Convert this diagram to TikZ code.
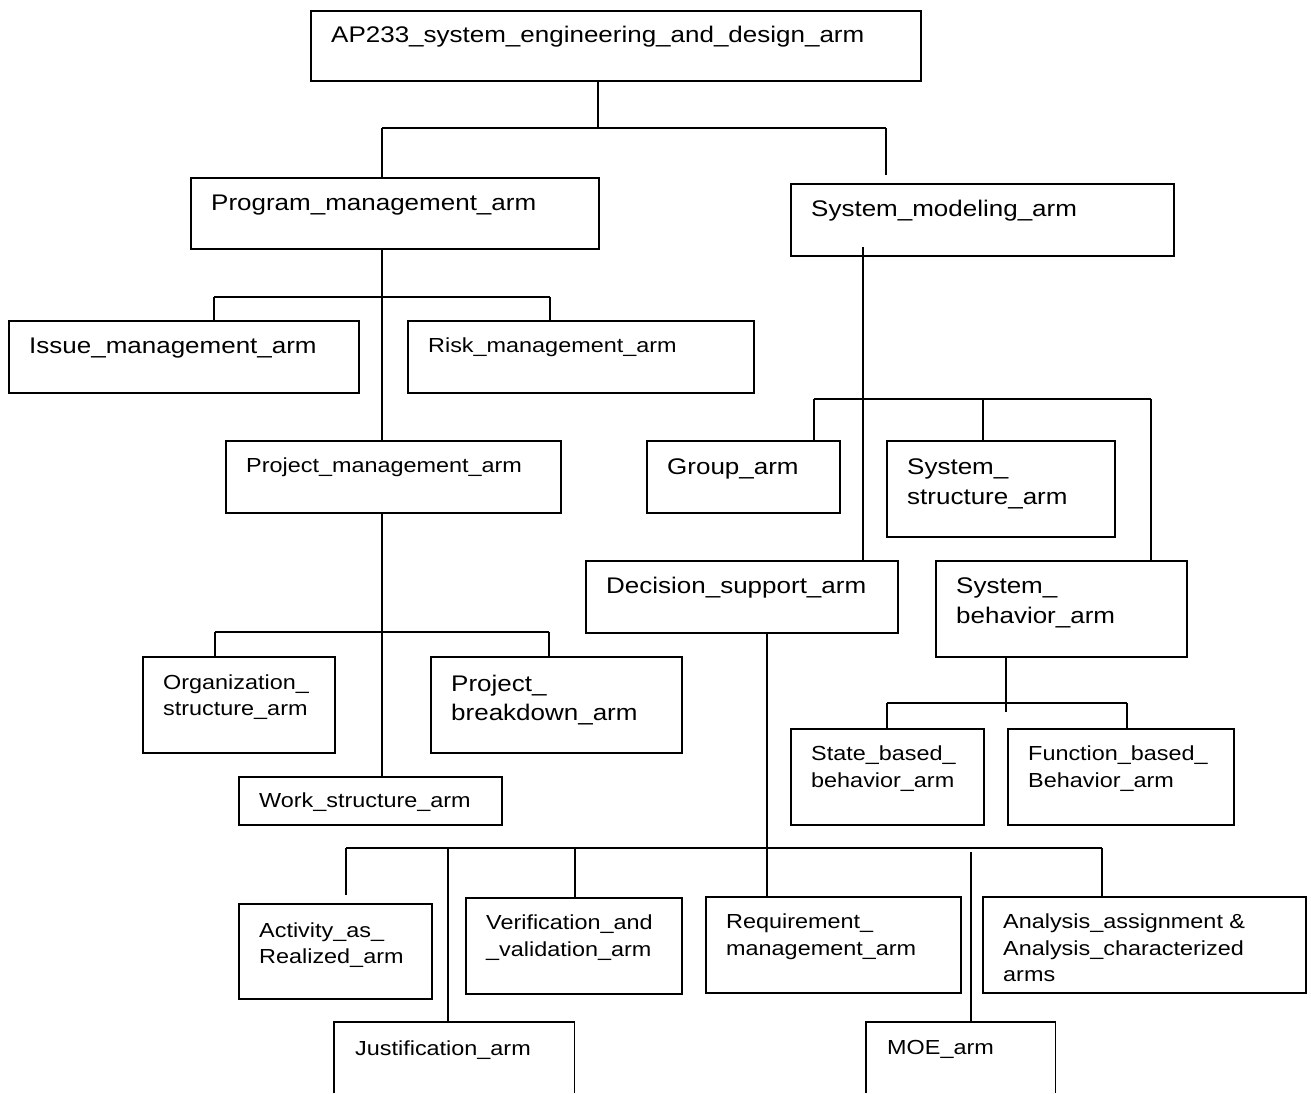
\documentclass[tikz,border=0pt]{standalone}
\usepackage{fontspec}
\usetikzlibrary{backgrounds}
\setmainfont[FakeStretch=1.15]{Liberation Sans}
\newcommand\Bx[5]{\node[boxst,anchor=north west,minimum width={#4pt-#2pt},minimum height={#5pt-#3pt}] (#1) at (#2,#3) {};}
\newcommand\Ob[5]{\node[anchor=north west,inner sep=0pt,minimum width={#4pt-#2pt},minimum height={#5pt-#3pt}] (#1) at (#2,#3) {};
  \draw[openst] (#1.south west) |- (#1.north east) -- (#1.south east);}
\newcommand\Tx[5]{\node[#2,anchor=base west] (#1) at ([shift={(21,#3)}]#4.north west) {#5};}
\tikzset{
  boxst/.style={draw=black,line width=1.8pt,inner sep=0pt,fill=white},
  openst/.style={draw=black,line width=1.8pt},
  conn/.style={draw=black,line width=1.5pt},
  lg/.style={font=\fontsize{22.6}{30}\selectfont,inner sep=0pt},
  sm/.style={font=\fontsize{20.35}{26}\selectfont,inner sep=0pt}
}
\begin{document}
\begin{tikzpicture}[x=1pt,y=-1pt]
\useasboundingbox (0,0) rectangle (1311,1093);
\clip (0,0) rectangle (1311,1093);

\coordinate (c0) at (598,128);
\coordinate (b0l) at (382,128);
\coordinate (b0r) at (886,128);
\coordinate (b0e) at (886,175);
\coordinate (b1l) at (214,297);
\coordinate (b1r) at (550,297);
\coordinate (b2l) at (215,632);
\coordinate (b2r) at (549,632);
\coordinate (rs) at (863,247);
\coordinate (b3l) at (814,399);
\coordinate (b3m) at (983,399);
\coordinate (b3r) at (1151,399);
\coordinate (bs) at (1006,712);
\coordinate (b4l) at (887,703);
\coordinate (b4r) at (1127,703);
\coordinate (b5l) at (346,848);
\coordinate (b5r) at (1102,848);
\coordinate (a1) at (346,895);
\coordinate (j1) at (448,849);
\coordinate (v1) at (575,848);
\coordinate (d1) at (767,848);
\coordinate (m1) at (971,852);

% boxes
\Bx{top}{310}{10}{920}{80}
\Bx{prog}{190}{177}{598}{248}
\Bx{sysmod}{790}{183}{1173}{255}
\Bx{issue}{8}{320}{358}{392}
\Bx{risk}{407}{320}{753}{392}
\Bx{projm}{225}{440}{560}{512}
\Bx{org}{142}{656}{334}{752}
\Bx{projb}{430}{656}{681}{752}
\Bx{work}{238}{776}{501}{824}
\Bx{group}{646}{440}{839}{512}
\Bx{sysstr}{886}{440}{1114}{536}
\Bx{dec}{585}{560}{897}{632}
\Bx{sysbeh}{935}{560}{1186}{656}
\Bx{state}{790}{728}{983}{824}
\Bx{func}{1007}{728}{1233}{824}
\Bx{act}{238}{903}{431}{998}
\Bx{ver}{465}{897}{681}{993}
\Bx{req}{705}{896}{960}{992}
\Bx{ana}{982}{896}{1305}{992}
\Ob{just}{334}{1022}{574}{1093}
\Ob{moe}{866}{1022}{1055}{1093}

% connectors, behind the boxes
\begin{pgfonlayer}{background}
\fill[white] (0,0) rectangle (1311,1093);
\draw[conn] (top.south -| c0) -- (c0);
\draw[conn] (b0l) -- (b0r);
\draw[conn] (b0l) -- (prog.north -| b0l);
\draw[conn] (b0r) -- (b0e);
\draw[conn] (prog.south -| b0l) -- (work.north -| b0l);
\draw[conn] (b1l) -- (b1r);
\draw[conn] (b1l) -- (issue.north -| b1l);
\draw[conn] (b1r) -- (risk.north -| b1r);
\draw[conn] (b2l) -- (b2r);
\draw[conn] (b2l) -- (org.north -| b2l);
\draw[conn] (b2r) -- (projb.north -| b2r);
\draw[conn] (b3l) -- (b3r);
\draw[conn] (b3l) -- (group.north -| b3l);
\draw[conn] (b3m) -- (sysstr.north -| b3m);
\draw[conn] (b3r) -- (sysbeh.north -| b3r);
\draw[conn] (sysbeh.south -| bs) -- (bs);
\draw[conn] (b4l) -- (b4r);
\draw[conn] (b4l) -- (state.north -| b4l);
\draw[conn] (b4r) -- (func.north -| b4r);
\draw[conn] (dec.south -| d1) -- (req.north -| d1);
\draw[conn] (b5l) -- (b5r);
\draw[conn] (b5l) -- (a1);
\draw[conn] (j1) -- (just.north -| j1);
\draw[conn] (v1) -- (ver.north -| v1);
\draw[conn] (m1) -- (moe.north -| m1);
\draw[conn] (b5r) -- (ana.north -| b5r);
\end{pgfonlayer}
% this one starts inside the System_modeling box
\draw[conn] (rs) -- (dec.north -| rs);

% texts
\Tx{top-t}{lg}{32}{top}{AP233\_system\_engineering\_and\_design\_arm}
\Tx{prog-t}{lg}{33}{prog}{Program\_management\_arm}
\Tx{sysmod-t}{lg}{33}{sysmod}{System\_modeling\_arm}
\Tx{issue-t}{lg}{33}{issue}{Issue\_management\_arm}
\Tx{risk-t}{sm}{32}{risk}{Risk\_management\_arm}
\Tx{projm-t}{sm}{32}{projm}{Project\_management\_arm}
\Tx{org-t1}{sm}{33}{org}{Organization\_}
\Tx{org-t2}{sm}{59}{org}{structure\_arm}
\Tx{projb-t1}{lg}{35}{projb}{Project\_}
\Tx{projb-t2}{lg}{64}{projb}{breakdown\_arm}
\Tx{work-t}{sm}{31}{work}{Work\_structure\_arm}
\Tx{group-t}{lg}{34}{group}{Group\_arm}
\Tx{sysstr-t1}{lg}{34}{sysstr}{System\_}
\Tx{sysstr-t2}{lg}{64}{sysstr}{structure\_arm}
\Tx{dec-t}{lg}{33}{dec}{Decision\_support\_arm}
\Tx{sysbeh-t1}{lg}{33}{sysbeh}{System\_}
\Tx{sysbeh-t2}{lg}{63}{sysbeh}{behavior\_arm}
\Tx{state-t1}{sm}{32}{state}{State\_based\_}
\Tx{state-t2}{sm}{59}{state}{behavior\_arm}
\Tx{func-t1}{sm}{32}{func}{Function\_based\_}
\Tx{func-t2}{sm}{59}{func}{Behavior\_arm}
\Tx{act-t1}{sm}{34}{act}{Activity\_as\_}
\Tx{act-t2}{sm}{60}{act}{Realized\_arm}
\Tx{ver-t1}{sm}{32}{ver}{Verification\_and}
\Tx{ver-t2}{sm}{59}{ver}{\_validation\_arm}
\Tx{req-t1}{sm}{32}{req}{Requirement\_}
\Tx{req-t2}{sm}{59}{req}{management\_arm}
\Tx{ana-t1}{sm}{32}{ana}{Analysis\_assignment \&}
\Tx{ana-t2}{sm}{59}{ana}{Analysis\_characterized}
\Tx{ana-t3}{sm}{85}{ana}{arms}
\Tx{just-t}{sm}{33}{just}{Justification\_arm}
\Tx{moe-t}{sm}{32}{moe}{MOE\_arm}
\end{tikzpicture}
\end{document}
